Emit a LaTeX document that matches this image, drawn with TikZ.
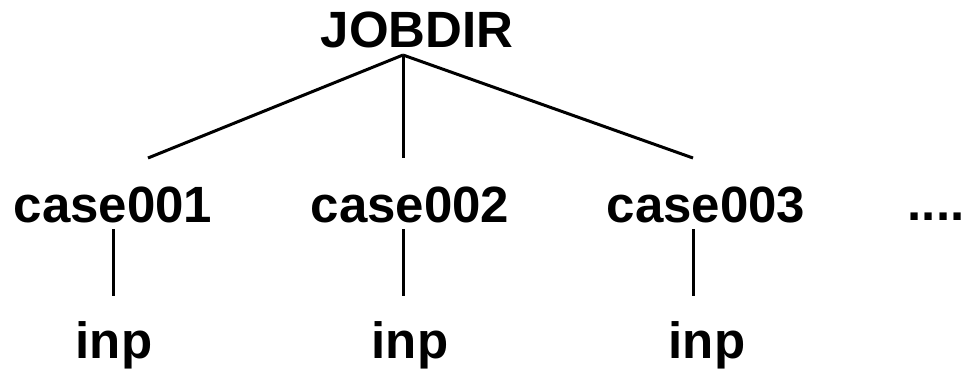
\documentclass[tikz,border=0pt]{standalone}
\usepackage{fontspec}
\setmainfont{Liberation Sans}
\usepackage{tikz}

\begin{document}
\begin{tikzpicture}[x=1pt, y=-1pt,
    dirlabel/.style={anchor=base, inner sep=0pt, font=\fontsize{51}{60}\selectfont\bfseries},
    branch/.style={line width=3pt}]
    \useasboundingbox (0,0) rectangle (967,368);
    % directory names
    \node[dirlabel] (jobdir) at (417,47) {JOBDIR};
    \node[dirlabel] (case001) at (113,222) {case001};
    \node[dirlabel] (case002) at (410,222) {case002};
    \node[dirlabel] (case003) at (706,222) {case003};
    \node[dirlabel] (more) at (936,220) {....};
    \node[dirlabel] (inp001) at (114,358) {inp};
    \node[dirlabel] (inp002) at (410,358) {inp};
    \node[dirlabel] (inp003) at (707,358) {inp};
    % branch ends
    \coordinate (root) at (403,55);
    \coordinate (top001) at (148,158);
    \coordinate (top002) at (403,158);
    \coordinate (top003) at (693,158);
    \coordinate (low001) at (113,229);
    \coordinate (low002) at (403,229);
    \coordinate (low003) at (693,229);
    \coordinate (end001) at (113,296);
    \coordinate (end002) at (403,296);
    \coordinate (end003) at (693,296);
    \foreach \n in {001,002,003}{
      \draw[branch] (root) -- (top\n);
      \draw[branch] (low\n) -- (end\n);
    }
\end{tikzpicture}
\end{document}
